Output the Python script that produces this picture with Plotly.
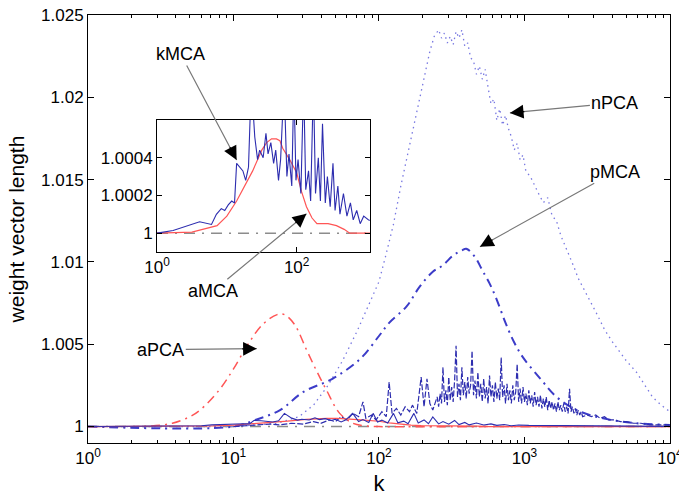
import math
import plotly.graph_objects as go

# ---------------- data (log10 k, value) ----------------
apca_logk = [0.0, 0.4, 0.58, 0.7, 0.77, 0.9, 1.0, 1.1, 1.2, 1.3, 1.35, 1.42, 1.5, 1.57, 1.64, 1.73, 1.82, 1.9, 2.0, 3.0, 4.0]
apca_val = [1.0, 1.00002, 1.0002, 1.0006, 1.001, 1.0022, 1.0035, 1.005, 1.0062, 1.0068, 1.0068, 1.0062, 1.0047, 1.0034,
            1.0022, 1.0008, 1.0002, 1.00005, 1.0, 1.0, 1.0]

npca_logk = [0.0, 1.0, 1.3, 1.45, 1.55, 1.65, 1.75, 1.85, 1.95, 2.0, 2.05, 2.1, 2.15, 2.2, 2.25, 2.3, 2.35, 2.38, 2.41,
             2.43, 2.45, 2.47, 2.49, 2.51, 2.53, 2.55, 2.57, 2.59, 2.61, 2.63, 2.65, 2.67, 2.69, 2.71, 2.73, 2.75, 2.77,
             2.79, 2.81, 2.83, 2.85, 2.87, 2.89, 2.91, 2.93, 2.95, 2.97, 2.99, 3.01, 3.04, 3.07, 3.10, 3.13, 3.16, 3.19,
             3.22, 3.25, 3.28, 3.31, 3.34, 3.37, 3.40, 3.45, 3.50, 3.55, 3.60, 3.65, 3.70, 3.77, 3.83, 3.88, 3.94, 4.0]
npca_val = [1.0, 1.0, 1.0002, 1.0006, 1.0013, 1.0025, 1.004, 1.0058, 1.0078, 1.0088, 1.0105, 1.0123, 1.0146, 1.0166,
            1.0188, 1.0208, 1.0228, 1.0237, 1.0241, 1.0236, 1.0239, 1.0233, 1.0237, 1.0232, 1.0240, 1.0236, 1.0241,
            1.0231, 1.0233, 1.0224, 1.0222, 1.0214, 1.0219, 1.0211, 1.0217, 1.0206, 1.0196, 1.0199, 1.0186, 1.0193,
            1.0183, 1.0189, 1.0181, 1.0176, 1.0168, 1.0172, 1.0162, 1.0165, 1.0155, 1.0152, 1.0146, 1.0141, 1.0136,
            1.0139, 1.0128, 1.0125, 1.0116, 1.0110, 1.0103, 1.0097, 1.0090, 1.0085, 1.0077, 1.0068, 1.0059, 1.0052,
            1.0046, 1.0040, 1.0033, 1.0025, 1.0018, 1.0013, 1.0009]

pmca_logk = [0.0, 1.0, 1.15, 1.32, 1.48, 1.68, 1.87, 2.0, 2.07, 2.19, 2.28, 2.37, 2.44, 2.51, 2.57, 2.6, 2.66, 2.71,
             2.76, 2.81, 2.87, 2.93, 2.99, 3.11, 3.22, 3.36, 3.54, 3.77, 4.0]
pmca_val = [1.0, 1.0, 1.0004, 1.001, 1.0021, 1.0029, 1.0041, 1.0055, 1.0063, 1.0073, 1.0085, 1.0094, 1.0098, 1.0104,
            1.0107, 1.0108, 1.0103, 1.0095, 1.0087, 1.0077, 1.0063, 1.0051, 1.0042, 1.0029, 1.0018, 1.001, 1.0005,
            1.0002, 1.0001]

noisy_logk = [1.00, 1.10, 1.18, 1.25, 1.32, 1.40, 1.48, 1.55, 1.60, 1.66, 1.70, 1.74, 1.78, 1.82, 1.86, 1.89, 1.91,
              1.95, 1.98, 2.02, 2.05, 2.07, 2.09, 2.12, 2.15, 2.18, 2.21, 2.23, 2.26, 2.29, 2.31, 2.33, 2.35, 2.37,
              2.40, 2.41, 2.42, 2.43, 2.44, 2.45, 2.46, 2.47, 2.48, 2.49, 2.50, 2.51, 2.52, 2.53, 2.54, 2.55, 2.56,
              2.57, 2.58, 2.59, 2.60, 2.61, 2.62, 2.63, 2.64, 2.65, 2.66, 2.67, 2.68, 2.69, 2.70, 2.71, 2.72, 2.73,
              2.74, 2.75, 2.76, 2.77, 2.78, 2.79, 2.80, 2.81, 2.82, 2.83, 2.84, 2.85, 2.86, 2.87, 2.88, 2.89, 2.90,
              2.91, 2.92, 2.93, 2.94, 2.95, 2.96, 2.97, 2.98, 2.99, 3.00, 3.01, 3.02, 3.03, 3.04, 3.05, 3.06, 3.07,
              3.08, 3.09, 3.10, 3.11, 3.12, 3.13, 3.14, 3.15, 3.16, 3.17, 3.18, 3.19, 3.20, 3.21, 3.22, 3.23, 3.24,
              3.25, 3.26, 3.27, 3.28, 3.29, 3.30, 3.31, 3.32, 3.33, 3.34, 3.35, 3.36, 3.37, 3.38, 3.39, 3.40,
              3.43, 3.46, 3.49, 3.52, 3.55, 3.58, 3.62, 3.66, 3.70, 3.75, 3.80, 3.86, 3.92, 4.00]
noisy_val = [1.0, 1.00005, 1.0001, 1.00015, 1.0001, 1.0002, 1.00015, 1.0003, 1.0002, 1.0004, 1.0003, 1.0006, 1.0004,
             1.0008, 1.0006, 1.0015, 1.0005, 1.0007, 1.0004, 1.0009, 1.0006, 1.0027, 1.0008, 1.0011, 1.0007, 1.0012,
             1.0009, 1.0013, 1.0008, 1.0030, 1.0012, 1.0029, 1.0014, 1.0010,
             1.0018, 1.0012, 1.0020, 1.0014, 1.0036, 1.0015, 1.0022, 1.0013, 1.0030, 1.0016, 1.0024, 1.0015, 1.0028,
             1.0049, 1.0018, 1.0026, 1.0016, 1.0036, 1.0019, 1.0027, 1.0017, 1.0030, 1.0020, 1.0025, 1.0046, 1.0019,
             1.0028, 1.0017, 1.0033, 1.0018, 1.0026, 1.0015, 1.0029, 1.0017, 1.0024, 1.0014, 1.0031, 1.0018, 1.0025,
             1.0015, 1.0027, 1.0017, 1.0023, 1.0016, 1.0042, 1.0018, 1.0025, 1.0014, 1.0026, 1.0016, 1.0022, 1.0014,
             1.0025, 1.0016, 1.0021, 1.0038, 1.0015, 1.0023, 1.0014, 1.0024, 1.0015, 1.0020, 1.0013, 1.0022, 1.0014,
             1.0019, 1.0012, 1.0021, 1.0013, 1.0018, 1.0012, 1.0019, 1.0011, 1.0017, 1.0012, 1.0018, 1.0010, 1.0016,
             1.0011, 1.0015, 1.0010, 1.0014, 1.0009, 1.0015, 1.0010, 1.0013, 1.0009, 1.0014, 1.0009, 1.0012, 1.0008,
             1.0023, 1.0009, 1.0012, 1.0008, 1.0011, 1.0007, 1.0010, 1.0007, 1.0009, 1.0006,
             1.0007, 1.0006, 1.0007, 1.0005, 1.0006, 1.0004, 1.0004, 1.0003, 1.0003, 1.0002, 1.0002, 1.0001, 1.0001,
             1.0001]

kmca_logk = [0.0, 0.23, 0.61, 0.78, 0.85, 0.92, 0.97, 1.02, 1.07, 1.11, 1.14, 1.19, 1.23, 1.27, 1.31, 1.35, 1.40, 1.44,
             1.47, 1.52, 1.56, 1.59, 1.63, 1.67, 1.70, 1.74, 1.77, 1.82, 1.86, 1.89, 1.93, 1.96, 1.99, 2.02, 2.06,
             2.10, 2.13, 2.17, 2.20, 2.24, 2.27, 2.31, 2.34, 2.37, 2.41, 2.44, 2.48, 2.52, 2.55, 2.59, 2.62, 2.67,
             2.72, 2.77, 2.81, 2.86, 2.91, 2.96, 3.03, 3.3, 3.6, 4.0]
kmca_val = [1.0, 1.000014, 1.00006, 1.000046, 1.0001, 1.00013, 1.00012, 1.00015, 1.00017, 1.00016, 1.00037, 1.00035,
            1.00033, 1.00028, 1.00035, 1.0008, 1.00051, 1.00039, 1.00044, 1.0004, 1.00053, 1.00042, 1.00048, 1.00037,
            1.00044, 1.00028, 1.00039, 1.0008, 1.0003, 1.00042, 1.00025, 1.0008, 1.00028, 1.00039, 1.00021, 1.0008,
            1.00023, 1.00033, 1.00017, 1.0008, 1.00021, 1.0004, 1.00017, 1.00058, 1.00016, 1.0003, 1.00014, 1.00037,
            1.00012, 1.00025, 1.0001, 1.00021, 1.00009, 1.00016, 1.00007, 1.00012, 1.00005, 1.00009, 1.00007, 1.00005,
            1.00003, 1.00001]

amca_logk = [0.0, 0.5, 0.86, 1.0, 1.14, 1.25, 1.37, 1.5, 1.57, 1.64, 1.71, 1.76, 1.8, 1.9, 2.0, 2.07, 2.14, 2.22, 2.29,
             2.45, 2.57, 2.68, 2.76, 3.04, 4.0]
amca_val = [1.0, 1.000005, 1.00004, 1.00009, 1.00017, 1.00025, 1.00033, 1.00044, 1.00048, 1.0005, 1.0005, 1.00049,
            1.00045, 1.00039, 1.00032, 1.00022, 1.00014, 1.00008, 1.00005, 1.00005, 1.00004, 1.00002, 1.0, 1.0, 1.0]

base_logk = [0.0, 4.0]
base_val = [1.0, 1.0]

main_yticks = [1.0, 1.005, 1.01, 1.015, 1.02, 1.025]
main_yticktext = ["1", "1.005", "1.01", "1.015", "1.02", "1.025"]
main_xticks = [1, 10, 100, 1000, 10000]
main_xticktext = ["10<sup>0</sup>", "10<sup>1</sup>", "10<sup>2</sup>", "10<sup>3</sup>", "10<sup>4</sup>"]
inset_yticks = [1.0, 1.0002, 1.0004]
inset_yticktext = ["1", "1.0002", "1.0004"]
inset_xticks = [1, 100]
inset_xticktext = ["10<sup>0</sup>", "10<sup>2</sup>"]


def kvals(logks):
    return [10 ** v for v in logks]


FONT = "Liberation Sans, Arial, sans-serif"
BLUE = "rgb(45,45,175)"
LBLUE = "rgb(120,120,225)"
RED = "rgb(255,85,85)"
GRAY = "rgb(140,140,140)"
BASE_DASH = "11px,7px,2px,7px"

fig = go.Figure()

# main axes traces
fig.add_trace(go.Scatter(x=kvals(base_logk), y=base_val, mode="lines",
                         line=dict(color=GRAY, width=1.5, dash=BASE_DASH), xaxis="x", yaxis="y"))
fig.add_trace(go.Scatter(x=kvals(apca_logk), y=apca_val, mode="lines", line_shape="spline",
                         line=dict(color=RED, width=1.5, dash="9px,5px,2px,5px"), xaxis="x", yaxis="y"))
fig.add_trace(go.Scatter(x=kvals(npca_logk), y=npca_val, mode="lines",
                         line=dict(color=LBLUE, width=1.3, dash="1.5px,4px"), xaxis="x", yaxis="y"))
fig.add_trace(go.Scatter(x=kvals(pmca_logk), y=pmca_val, mode="lines", line_shape="spline",
                         line=dict(color="rgb(60,60,200)", width=2, dash="9px,5px,2px,5px"), xaxis="x", yaxis="y"))
fig.add_trace(go.Scatter(x=kvals(noisy_logk), y=noisy_val, mode="lines",
                         line=dict(color=BLUE, width=1.2, dash="6px,2px"), xaxis="x", yaxis="y"))
fig.add_trace(go.Scatter(x=kvals(amca_logk), y=amca_val, mode="lines",
                         line=dict(color=RED, width=1.2), xaxis="x", yaxis="y"))
fig.add_trace(go.Scatter(x=kvals(kmca_logk), y=kmca_val, mode="lines",
                         line=dict(color=BLUE, width=1.1), xaxis="x", yaxis="y"))

# inset traces
fig.add_trace(go.Scatter(x=kvals(base_logk), y=base_val, mode="lines",
                         line=dict(color=GRAY, width=1.5, dash=BASE_DASH), xaxis="x2", yaxis="y2"))
fig.add_trace(go.Scatter(x=kvals(amca_logk), y=amca_val, mode="lines",
                         line=dict(color=RED, width=1.2), xaxis="x2", yaxis="y2"))
fig.add_trace(go.Scatter(x=kvals(kmca_logk), y=kmca_val, mode="lines",
                         line=dict(color=BLUE, width=1.1), xaxis="x2", yaxis="y2"))

axis_common = dict(showline=True, linecolor="black", linewidth=1, mirror="ticks", ticks="inside",
                   tickcolor="black", showgrid=False, zeroline=False, automargin=False,
                   tickfont=dict(family=FONT, size=17, color="black"))

fig.update_layout(
    width=679, height=503,
    margin=dict(l=88, r=9, t=15, b=60),
    paper_bgcolor="white", plot_bgcolor="white",
    showlegend=False,
    xaxis=dict(type="log", range=[0, 4.0005], tickvals=main_xticks, ticktext=main_xticktext, ticklen=6,
               ticklabeloverflow="allow",
               minor=dict(ticks="inside", ticklen=3, tickcolor="black", tickvals=[
                   m * 10 ** e for e in range(4) for m in range(2, 10)]),
               title=dict(text="k", font=dict(family=FONT, size=22, color="black"), standoff=8),
               domain=[0, 1], anchor="y", **axis_common),
    yaxis=dict(range=[0.999, 1.025], tickvals=main_yticks, ticktext=main_yticktext, ticklen=6,
               title=dict(text="weight vector length", font=dict(family=FONT, size=21, color="black"),
                          standoff=10),
               domain=[0, 1], anchor="x", **axis_common),
    xaxis2=dict(type="log", range=[0, 3.05], tickvals=inset_xticks, ticktext=inset_xticktext, ticklen=5,
                domain=[0.1186, 0.4845], anchor="y2", **axis_common),
    yaxis2=dict(range=[0.9999, 1.0006], tickvals=inset_yticks, ticktext=inset_yticktext, ticklen=5,
                domain=[0.4463, 0.7547], anchor="x2", **axis_common),
)

# annotations: (text, xref, yref, head_logk, head_val, ax, ay)
labels = [
    ("kMCA", "x2", "y2", 1.14, 1.000388, -56, -106),
    ("aMCA", "x2", "y2", 2.14, 1.000103, -93, 77),
    ("nPCA", "x", "y", 2.9, 1.01905, 105, -10),
    ("pMCA", "x", "y", 2.694, 1.01092, 135, -75),
    ("aPCA", "x", "y", 1.16, 1.00473, -96, 1),
]
for text, xr, yr, hx, hy, ax, ay in labels:
    fig.add_annotation(x=hx, y=hy, xref=xr, yref=yr, ax=ax, ay=ay, text=text, showarrow=True,
                       arrowhead=0, arrowwidth=1.2, arrowcolor="rgb(120,120,120)",
                       font=dict(family=FONT, size=18, color="black"))
    n = math.hypot(ax, ay)
    fig.add_annotation(x=hx, y=hy, xref=xr, yref=yr, ax=ax / n * 16, ay=ay / n * 16, text="",
                       showarrow=True, arrowhead=2, arrowsize=2.1, arrowwidth=1.3, arrowcolor="black")

fig.write_html("out.html")
